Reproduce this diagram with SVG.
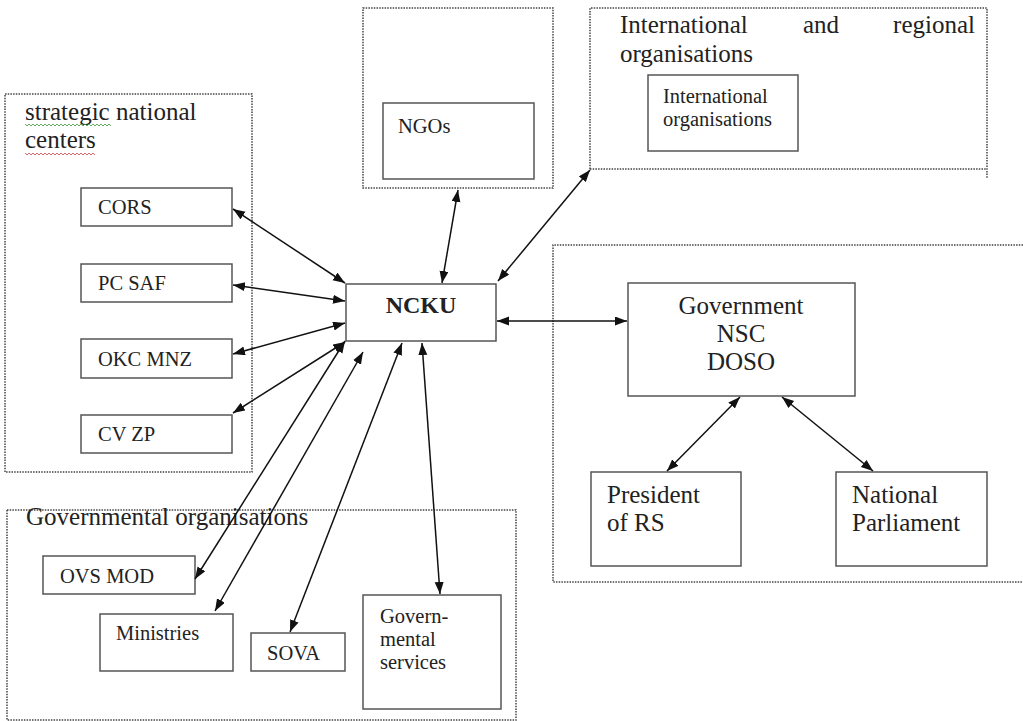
<svg xmlns="http://www.w3.org/2000/svg" width="1023" height="721" viewBox="0 0 1023 721">
<defs>
<marker id="ah" markerUnits="userSpaceOnUse" markerWidth="13" markerHeight="10" refX="12" refY="4.5" orient="auto-start-reverse">
<path d="M0,0 L12,4.5 L0,9 z" fill="#111"/>
</marker>
<style>
.grp{fill:none;stroke:#444;stroke-width:1.5;stroke-dasharray:1.5 1.2}
.box{fill:#fff;stroke:#555;stroke-width:1.5}
text{font-family:'Liberation Serif','DejaVu Serif',serif;fill:#222;font-weight:normal}
.s{font-size:20.5px}
.l{font-size:25px}
.c{stroke:#111;stroke-width:1.5;fill:none;marker-start:url(#ah);marker-end:url(#ah)}
</style>
</defs>
<rect width="1023" height="721" fill="#fff"/>

<g id="group-strategic">
<rect class="grp" x="5" y="94" width="247" height="378"/>
<text class="l" x="25" y="120">strategic national</text>
<text class="l" x="25" y="148">centers</text>
<path d="M25,124 l2,2 l2,-2 l2,2 l2,-2 l2,2 l2,-2 l2,2 l2,-2 l2,2 l2,-2 l2,2 l2,-2 l2,2 l2,-2 l2,2 l2,-2 l2,2 l2,-2 l2,2 l2,-2 l2,2 l2,-2 l2,2 l2,-2 l2,2 l2,-2 l2,2 l2,-2 l2,2 l2,-2 l2,2 l2,-2 l2,2 l2,-2 l2,2 l2,-2 l2,2 l2,-2 l2,2 l2,-2 l2,2 l2,-2 l2,2" fill="none" stroke="#3a9a3a" stroke-width="0.8"/>
<path d="M25,153 l2,2 l2,-2 l2,2 l2,-2 l2,2 l2,-2 l2,2 l2,-2 l2,2 l2,-2 l2,2 l2,-2 l2,2 l2,-2 l2,2 l2,-2 l2,2 l2,-2 l2,2 l2,-2 l2,2 l2,-2 l2,2 l2,-2 l2,2 l2,-2 l2,2 l2,-2 l2,2 l2,-2 l2,2 l2,-2 l2,2 l2,-2 l2,2" fill="none" stroke="#d04040" stroke-width="0.8"/>
</g>
<g id="node-cors"><rect class="box" x="81" y="188" width="151" height="38"/><text class="s" x="98" y="214">CORS</text></g>
<g id="node-pcsaf"><rect class="box" x="81" y="264" width="151" height="38"/><text class="s" x="98" y="290">PC SAF</text></g>
<g id="node-okcmnz"><rect class="box" x="81" y="339" width="151" height="39"/><text class="s" x="98" y="366">OKC MNZ</text></g>
<g id="node-cvzp"><rect class="box" x="81" y="415" width="151" height="38"/><text class="s" x="98" y="441">CV ZP</text></g>

<g id="group-ngo">
<rect class="grp" x="363" y="8" width="190" height="180"/>
</g>
<g id="node-ngos"><rect class="box" x="383" y="103" width="151" height="76"/><text class="s" x="398" y="133">NGOs</text></g>

<g id="group-international">
<path class="grp" d="M590,169 V8 H987 V178 M590,169 H987"/>
<text class="l" x="620" y="33">International</text>
<text class="l" x="803" y="33">and</text>
<text class="l" x="975" y="33" text-anchor="end">regional</text>
<text class="l" x="620" y="62">organisations</text>
</g>
<g id="node-intl"><rect class="box" x="648" y="75" width="150" height="76"/><text class="s" x="663" y="103">International</text><text class="s" x="663" y="126">organisations</text></g>

<g id="node-ncku"><rect class="box" x="346" y="284" width="150" height="57"/><text x="421" y="313" style="font-size:24px;font-weight:bold" text-anchor="middle">NCKU</text></g>

<g id="group-government">
<path class="grp" d="M1023,245 H553 V582 H1023"/>
</g>
<g id="node-gov"><rect class="box" x="628" y="283" width="227" height="113"/>
<text class="l" x="741" y="314" text-anchor="middle">Government</text>
<text class="l" x="741" y="342" text-anchor="middle">NSC</text>
<text class="l" x="741" y="370" text-anchor="middle">DOSO</text></g>
<g id="node-president"><rect class="box" x="591" y="472" width="150" height="94"/><text class="l" x="607" y="503">President</text><text class="l" x="607" y="531">of RS</text></g>
<g id="node-parliament"><rect class="box" x="836" y="472" width="151" height="94"/><text class="l" x="852" y="503">National</text><text class="l" x="852" y="531">Parliament</text></g>

<g id="group-governmental">
<rect class="grp" x="7" y="510" width="509" height="210"/>
<text class="l" x="26" y="525">Governmental organisations</text>
</g>
<g id="node-ovsmod"><rect class="box" x="43" y="556" width="152" height="38"/><text class="s" x="60" y="583">OVS MOD</text></g>
<g id="node-ministries"><rect class="box" x="100" y="614" width="133" height="57"/><text class="s" x="116" y="640">Ministries</text></g>
<g id="node-sova"><rect class="box" x="251" y="633" width="94" height="38"/><text class="s" x="267" y="660">SOVA</text></g>
<g id="node-govservices"><rect class="box" x="363" y="595" width="138" height="114"/><text class="s" x="380" y="623">Govern-</text><text class="s" x="380" y="646">mental</text><text class="s" x="380" y="669">services</text></g>

<g id="connectors">
<line class="c" x1="233" y1="209" x2="345" y2="283"/>
<line class="c" x1="233" y1="285" x2="345" y2="301"/>
<line class="c" x1="233" y1="354" x2="345" y2="323"/>
<line class="c" x1="233" y1="413" x2="345" y2="342"/>
<line class="c" x1="345" y1="341" x2="195" y2="579"/>
<line class="c" x1="363" y1="352" x2="215" y2="611"/>
<line class="c" x1="402" y1="343" x2="290" y2="632"/>
<line class="c" x1="422" y1="343" x2="440" y2="594"/>
<line class="c" x1="458" y1="190" x2="442" y2="283"/>
<line class="c" x1="590" y1="170" x2="498" y2="281"/>
<line class="c" x1="497" y1="321" x2="627" y2="321"/>
<line class="c" x1="740" y1="397" x2="667" y2="471"/>
<line class="c" x1="782" y1="397" x2="873" y2="471"/>
</g>
</svg>
